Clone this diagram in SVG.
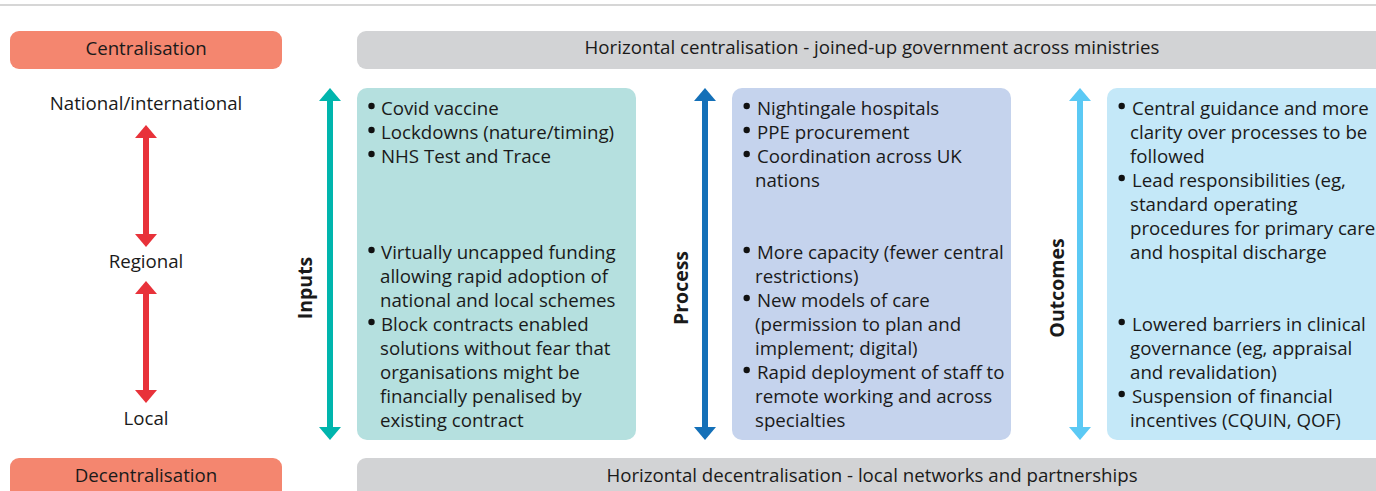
<svg xmlns="http://www.w3.org/2000/svg" width="1376" height="491" viewBox="0 0 1376 491">
<defs>
<style>
text{font-family:"Open Sans","Noto Sans","Liberation Sans",sans-serif;fill:#1a1a1a}
.t{font-size:18.7px}
.c{text-anchor:middle}
.v{font-size:19.5px;font-weight:bold;text-anchor:middle}
.sal{fill:#f4866f}
.gry{fill:#d2d3d5}
.b{fill:#111}
</style>
<marker id="mr" viewBox="0 0 13 22" refX="0" refY="11" markerWidth="13" markerHeight="22" orient="auto-start-reverse" markerUnits="userSpaceOnUse"><path d="M0,0L13,11L0,22z" fill="#e8323a"/></marker>
<marker id="mt" viewBox="0 0 13 22" refX="0" refY="11" markerWidth="13" markerHeight="22" orient="auto-start-reverse" markerUnits="userSpaceOnUse"><path d="M0,0L13,11L0,22z" fill="#00b5ad"/></marker>
<marker id="mb" viewBox="0 0 13 22" refX="0" refY="11" markerWidth="13" markerHeight="22" orient="auto-start-reverse" markerUnits="userSpaceOnUse"><path d="M0,0L13,11L0,22z" fill="#1470b8"/></marker>
<marker id="ml" viewBox="0 0 13 22" refX="0" refY="11" markerWidth="13" markerHeight="22" orient="auto-start-reverse" markerUnits="userSpaceOnUse"><path d="M0,0L13,11L0,22z" fill="#5bc9f4"/></marker>
</defs>
<rect width="1376" height="491" fill="#fff"/>
<line x1="0" y1="5" x2="1376" y2="5" stroke="#c8c8c8" stroke-width="1.5"/>

<g id="centralisation"><rect class="sal" x="10" y="31" width="272" height="38" rx="9"/><text class="t c" x="146" y="55">Centralisation</text></g>
<g id="horiz-central"><rect class="gry" x="357" y="31" width="1030" height="38" rx="9"/><text class="t c" x="872" y="54">Horizontal centralisation - joined-up government across ministries</text></g>
<g id="decentralisation"><rect class="sal" x="10" y="458" width="272" height="45" rx="9"/><text class="t c" x="146" y="482">Decentralisation</text></g>
<g id="horiz-decentral"><rect class="gry" x="357" y="458" width="1030" height="45" rx="9"/><text class="t c" x="872" y="482">Horizontal decentralisation - local networks and partnerships</text></g>

<g id="level-national"><text class="t c" x="146" y="110">National/international</text></g>
<g id="level-regional"><text class="t c" x="146" y="268">Regional</text></g>
<g id="level-local"><text class="t c" x="146" y="425">Local</text></g>

<g id="connectors">
<line x1="146" y1="138" x2="146" y2="234" stroke="#e8323a" stroke-width="6" marker-start="url(#mr)" marker-end="url(#mr)"/>
<line x1="146" y1="294" x2="146" y2="390" stroke="#e8323a" stroke-width="6" marker-start="url(#mr)" marker-end="url(#mr)"/>
<line x1="330" y1="101" x2="330" y2="427" stroke="#00b5ad" stroke-width="6" marker-start="url(#mt)" marker-end="url(#mt)"/>
<line x1="705" y1="101" x2="705" y2="427" stroke="#1470b8" stroke-width="6" marker-start="url(#mb)" marker-end="url(#mb)"/>
<line x1="1080" y1="101" x2="1080" y2="427" stroke="#5bc9f4" stroke-width="6" marker-start="url(#ml)" marker-end="url(#ml)"/>
</g>

<g id="inputs">
<text class="v" transform="translate(312,288) rotate(-90)">Inputs</text>
<rect x="357" y="88" width="279" height="352" rx="10" fill="#b5e0df"/>
<circle class="b" cx="371.5" cy="106" r="3.2"/><text class="t" x="381" y="114.5">Covid vaccine</text>
<circle class="b" cx="371.5" cy="130" r="3.2"/><text class="t" x="381" y="138.5">Lockdowns (nature/timing)</text>
<circle class="b" cx="371.5" cy="154" r="3.2"/><text class="t" x="381" y="162.5">NHS Test and Trace</text>
<circle class="b" cx="371.5" cy="250" r="3.2"/><text class="t" x="381" y="258.5">Virtually uncapped funding</text>
<text class="t" x="380" y="282.5">allowing rapid adoption of</text>
<text class="t" x="380" y="306.5">national and local schemes</text>
<circle class="b" cx="371.5" cy="322" r="3.2"/><text class="t" x="381" y="330.5">Block contracts enabled</text>
<text class="t" x="380" y="354.5">solutions without fear that</text>
<text class="t" x="380" y="378.5">organisations might be</text>
<text class="t" x="380" y="402.5">financially penalised by</text>
<text class="t" x="380" y="426.5">existing contract</text>
</g>

<g id="process">
<text class="v" transform="translate(688,288) rotate(-90)">Process</text>
<rect x="732" y="88" width="279" height="352" rx="10" fill="#c5d3ed"/>
<circle class="b" cx="746.7" cy="106" r="3.2"/><text class="t" x="757" y="114.5">Nightingale hospitals</text>
<circle class="b" cx="746.7" cy="130" r="3.2"/><text class="t" x="757" y="138.5">PPE procurement</text>
<circle class="b" cx="746.7" cy="154" r="3.2"/><text class="t" x="757" y="162.5">Coordination across UK</text>
<text class="t" x="755" y="186.5">nations</text>
<circle class="b" cx="746.7" cy="250" r="3.2"/><text class="t" x="757" y="258.5">More capacity (fewer central</text>
<text class="t" x="755" y="282.5">restrictions)</text>
<circle class="b" cx="746.7" cy="298" r="3.2"/><text class="t" x="757" y="306.5">New models of care</text>
<text class="t" x="755" y="330.5">(permission to plan and</text>
<text class="t" x="755" y="354.5">implement; digital)</text>
<circle class="b" cx="746.7" cy="370" r="3.2"/><text class="t" x="757" y="378.5">Rapid deployment of staff to</text>
<text class="t" x="755" y="402.5">remote working and across</text>
<text class="t" x="755" y="426.5">specialties</text>
</g>

<g id="outcomes">
<text class="v" transform="translate(1064,288) rotate(-90)">Outcomes</text>
<rect x="1107" y="88" width="290" height="352" rx="10" fill="#c4e8f8"/>
<circle class="b" cx="1121.7" cy="106" r="3.2"/><text class="t" x="1132" y="114.5">Central guidance and more</text>
<text class="t" x="1130" y="138.5">clarity over processes to be</text>
<text class="t" x="1130" y="162.5">followed</text>
<circle class="b" cx="1121.7" cy="178" r="3.2"/><text class="t" x="1132" y="186.5">Lead responsibilities (eg,</text>
<text class="t" x="1130" y="210.5">standard operating</text>
<text class="t" x="1130" y="234.5">procedures for primary care</text>
<text class="t" x="1130" y="258.5">and hospital discharge</text>
<circle class="b" cx="1121.7" cy="322" r="3.2"/><text class="t" x="1132" y="330.5">Lowered barriers in clinical</text>
<text class="t" x="1130" y="354.5">governance (eg, appraisal</text>
<text class="t" x="1130" y="378.5">and revalidation)</text>
<circle class="b" cx="1121.7" cy="394" r="3.2"/><text class="t" x="1132" y="402.5">Suspension of financial</text>
<text class="t" x="1130" y="426.5">incentives (CQUIN, QOF)</text>
</g>
</svg>
